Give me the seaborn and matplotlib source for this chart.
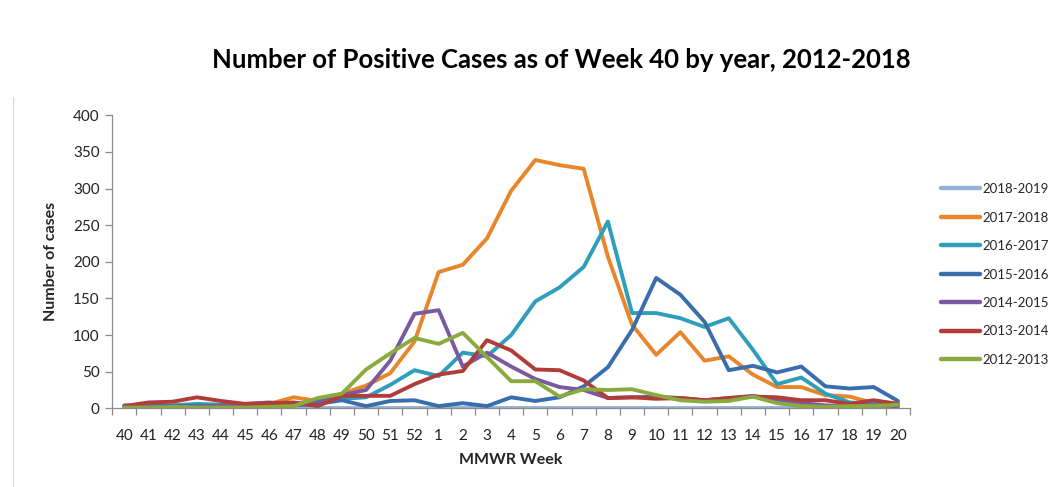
import matplotlib
matplotlib.use("Agg")
import matplotlib.pyplot as plt
from matplotlib.lines import Line2D
import numpy as np
import pandas as pd
import seaborn as sns

weeks = ["40", "41", "42", "43", "44", "45", "46", "47", "48", "49", "50", "51", "52",
         "1", "2", "3", "4", "5", "6", "7", "8", "9", "10", "11", "12", "13", "14",
         "15", "16", "17", "18", "19", "20"]

s2018_2019 = [0] * 33
s2017_2018 = [0, 1, 1, 2, 3, 4, 6, 15, 10, 20, 31, 48, 91, 186, 196, 232, 297, 339, 332,
              327, 207, 114, 73, 104, 65, 71, 46, 29, 29, 18, 16, 7, 4]
s2016_2017 = [2, 3, 4, 6, 5, 4, 5, 6, 10, 13, 15, 32, 52, 44, 76, 71, 100, 146, 165,
              193, 255, 130, 130, 123, 111, 123, 80, 33, 42, 20, 8, 6, 6]
s2015_2016 = [4, 3, 3, 3, 3, 3, 3, 4, 6, 11, 3, 10, 11, 3, 7, 3, 15, 10, 15,
              30, 56, 107, 178, 155, 118, 52, 58, 49, 57, 30, 27, 29, 10]
s2014_2015 = [1, 2, 2, 2, 4, 6, 8, 5, 10, 18, 25, 65, 129, 134, 57, 76, 57, 40, 29,
              25, 14, 15, 16, 14, 11, 14, 17, 11, 7, 4, 3, 4, 3]
s2013_2014 = [3, 8, 9, 15, 10, 6, 7, 8, 3, 17, 17, 17, 33, 46, 51, 93, 79, 53, 52,
              38, 14, 15, 13, 14, 11, 14, 16, 15, 11, 11, 6, 11, 6]
s2012_2013 = [1, 1, 2, 1, 1, 1, 2, 3, 14, 20, 53, 75, 96, 88, 103, 70, 37, 37, 16,
              26, 25, 26, 18, 11, 9, 10, 16, 7, 3, 2, 3, 3, 5]

seasons = ["2018-2019", "2017-2018", "2016-2017", "2015-2016", "2014-2015", "2013-2014", "2012-2013"]
series = [s2018_2019, s2017_2018, s2016_2017, s2015_2016, s2014_2015, s2013_2014, s2012_2013]
colors = ["#95B3D7", "#E8862C", "#2E9FBA", "#3A6DAC", "#7A5A9E", "#B13C3A", "#8AAA3E"]

rows = []
for name, vals in zip(seasons, series):
    for i, v in enumerate(vals):
        rows.append({"pos": i, "week": weeks[i], "season": name, "cases": v})
df = pd.DataFrame(rows)

sns.set_theme(style="white")
plt.rcParams["font.family"] = ["Lato", "DejaVu Sans"]

fig = plt.figure(figsize=(10.57, 4.87), dpi=100)
ax = fig.add_axes([0.1062, 0.1616, 0.8610 - 0.1062, 0.7632 - 0.1616])

sns.lineplot(data=df, x="pos", y="cases", hue="season", hue_order=seasons,
             palette=dict(zip(seasons, colors)), linewidth=2.8, ax=ax,
             legend=False, estimator=None, sort=False)

ax.set_xlim(-0.5, len(weeks) - 0.5)
ax.set_ylim(0, 400)
ax.set_yticks(np.arange(0, 401, 50))
ax.set_xticks(np.arange(len(weeks)))
ax.set_xticklabels(weeks)
ax.set_xticks(np.arange(-0.5, len(weeks)), minor=True)
ax.tick_params(axis="x", which="major", length=0, labelsize=11, colors="#222222", pad=15)
ax.tick_params(axis="x", which="minor", length=5, width=0.9, color="#8C8C8C", direction="out", bottom=True)
ax.tick_params(axis="y", which="major", length=5, width=0.9, color="#8C8C8C", direction="out",
               left=True, labelsize=11, labelcolor="#222222", pad=4)
for side in ["top", "right"]:
    ax.spines[side].set_visible(False)
for side in ["left", "bottom"]:
    ax.spines[side].set_color("#8C8C8C")
    ax.spines[side].set_linewidth(0.9)
ax.grid(False)

ax.set_xlabel("MMWR Week", fontsize=11.5, fontweight="bold", labelpad=7)
ax.set_ylabel("Number of cases", fontsize=11.5, fontweight="bold", labelpad=11)

fig.text(0.531, 0.877, "Number of Positive Cases as of Week 40 by year, 2012-2018",
         ha="center", va="center", fontsize=18.5, fontweight="bold", color="#000000")

handles = [Line2D([0], [0], color=c, linewidth=3.2) for c in colors]
fig.legend(handles, seasons, loc="upper left", bbox_to_anchor=(0.885, 0.635),
           frameon=False, fontsize=9.5, handlelength=3.0, handletextpad=0.15,
           labelspacing=1.25, borderaxespad=0)

fig.add_artist(Line2D([13 / 1057, 13 / 1057], [0.0, 0.8], color="#D9D9D9", linewidth=0.8,
                      transform=fig.transFigure))

fig.savefig("out.png", dpi=100, facecolor="white")
